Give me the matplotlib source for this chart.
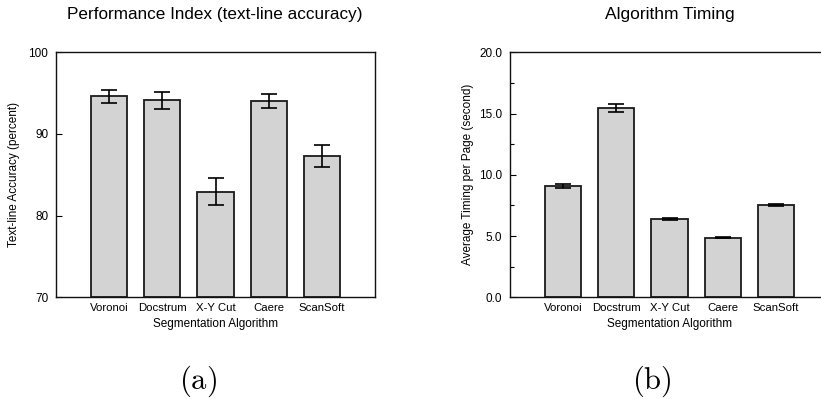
import matplotlib
matplotlib.use("Agg")
import matplotlib.pyplot as plt
from matplotlib.ticker import MultipleLocator, FormatStrFormatter
from matplotlib import font_manager

categories = ["Voronoi", "Docstrum", "X-Y Cut", "Caere", "ScanSoft"]
accuracy = [94.6, 94.1, 82.95, 94.0, 87.3]
accuracy_err = [0.8, 1.0, 1.6, 0.85, 1.3]
timing = [9.10, 15.44, 6.39, 4.86, 7.55]
timing_err = [0.18, 0.30, 0.05, 0.03, 0.10]

names = {f.name for f in font_manager.fontManager.ttflist}
fam = ["Liberation Sans Narrow"] if "Liberation Sans Narrow" in names else ["Liberation Sans"]
plt.rcParams['font.family'] = fam + ["DejaVu Sans"]
plt.rcParams['mathtext.fontset'] = 'cm'

W, H = 821, 399
fig = plt.figure(figsize=(W/100, H/100), dpi=100)

def px_axes(x0, x1, ytop, ybot):
    return [x0/W, 1-ybot/H, (x1-x0)/W, (ybot-ytop)/H]

ax1 = fig.add_axes(px_axes(56, 375, 52.3, 297.3))
ax2 = fig.add_axes(px_axes(510, 829, 52.3, 297.3))

pos = list(range(1, len(categories)+1))
bar_kw = dict(width=0.68, color="#d3d3d3", edgecolor="#1a1a1a", linewidth=1.3, zorder=2)
err_kw = dict(fmt="none", ecolor="black", elinewidth=1.2, capsize=5.5, capthick=1.2, zorder=3)

for ax, vals, errs, ymin, ymax, major, minor, fmt, ylabel, title, tsize, tx, lbl, lx in [
    (ax1, accuracy, accuracy_err, 70, 100, 10, None, "%d", "Text-line Accuracy (percent)",
     "Performance Index (text-line accuracy)", 12.3, 215, "(a)", 198),
    (ax2, timing, timing_err, 0, 20, 5, 2.5, "%.1f", "Average Timing per Page (second)",
     "Algorithm Timing", 12.5, 670, "(b)", 652),
]:
    base = ymin
    ax.bar(pos, [v - base for v in vals], bottom=base, **bar_kw)
    ax.errorbar(pos, vals, yerr=errs, **err_kw)
    ax.set_xlim(0, 6)
    ax.set_ylim(ymin, ymax)
    ax.set_xticks(pos)
    ax.set_xticklabels(categories, fontsize=8.2)
    ax.tick_params(axis="x", length=0, pad=4)
    ax.yaxis.set_major_locator(MultipleLocator(major))
    if minor:
        ax.yaxis.set_minor_locator(MultipleLocator(minor))
    ax.yaxis.set_major_formatter(FormatStrFormatter(fmt))
    ax.tick_params(axis="y", which="major", direction="in", length=4, width=0.8, pad=5.5, labelsize=8.5)
    ax.tick_params(axis="y", which="minor", direction="in", length=3, width=0.8)
    for s in ax.spines.values():
        s.set_linewidth(1.0)
        s.set_color("#111111")
    ax.set_xlabel("Segmentation Algorithm", fontsize=8.5, labelpad=3.5)
    ax.set_ylabel(ylabel, fontsize=8.5)
    ax.yaxis.set_label_coords(-0.112, 0.5)
    fig.text(tx/W, 1-15/H, title, ha="center", va="center", fontsize=tsize,
             family=["Liberation Sans", "DejaVu Sans"])
    fig.text(lx/W, 1-381/H, r"$\mathrm{" + lbl + "}$", ha="center", va="center", fontsize=22)

fig.savefig("out.png", dpi=100)
